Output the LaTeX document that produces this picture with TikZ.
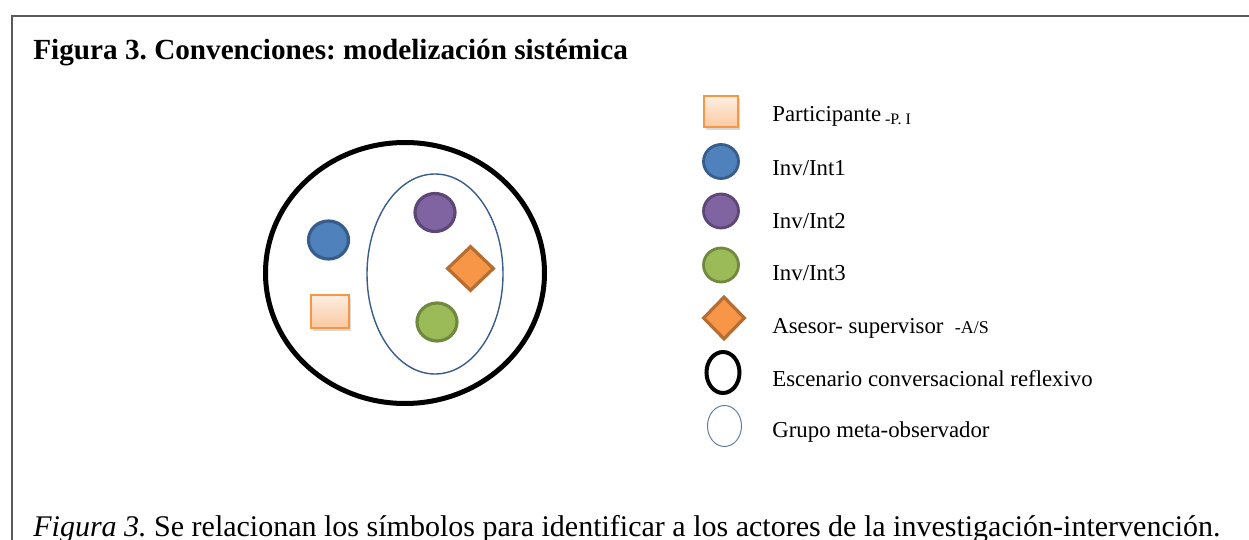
\documentclass[tikz,border=0pt]{standalone}
\usepackage{fontspec}
\setmainfont{Liberation Serif}
\usetikzlibrary{shapes.geometric,shadows}
\frenchspacing
\definecolor{framegray}{HTML}{5A5A5A}
\definecolor{invblue}{HTML}{4F81BD}
\definecolor{invblued}{HTML}{385D8A}
\definecolor{invpurple}{HTML}{8064A2}
\definecolor{invpurpled}{HTML}{5C4776}
\definecolor{invgreen}{HTML}{9BBB59}
\definecolor{invgreend}{HTML}{71893F}
\definecolor{asorange}{HTML}{F79646}
\definecolor{asoranged}{HTML}{B66D31}
\definecolor{peachtop}{HTML}{FDEEE2}
\definecolor{peachbot}{HTML}{FBC9A0}
\def\titlefont{\fontsize{14.6}{17}\selectfont\bfseries}
\def\legendfont{\fontsize{11.4}{13}\selectfont}
\def\tagfont{\fontsize{8}{9}\selectfont}
\def\captionfont{\fontsize{15}{17}\selectfont}
\tikzset{
	actor/.style={ellipse,inner sep=0pt,line width=1.6pt,minimum width=20pt,minimum height=19pt},
	inv1/.style={actor,draw=invblued,fill=invblue},
	inv2/.style={actor,draw=invpurpled,fill=invpurple},
	inv3/.style={actor,draw=invgreend,fill=invgreen},
	asesor/.style={diamond,inner sep=0pt,line width=1.6pt,draw=asoranged,fill=asorange,minimum width=23.5pt,minimum height=22.5pt},
	participante/.style={rectangle,inner sep=0pt,line width=1pt,draw=asorange,top color=peachtop,bottom color=peachbot,
		drop shadow={opacity=.3,shadow xshift=1pt,shadow yshift=-1.5pt},minimum width=19pt,minimum height=16.5pt},
	escenario/.style={ellipse,inner sep=0pt,draw=black,line width=2.5pt},
	metagrupo/.style={ellipse,inner sep=0pt,draw=invblued,line width=.7pt},
	leyenda/.style={anchor=base west,inner sep=0pt,font=\legendfont},
}

\begin{document}
\begin{tikzpicture}[x=.5pt,y=-.5pt]
	\useasboundingbox (0,0) rectangle (1249,540);
	\draw[line width=1pt,color=framegray] (1249,16) -- (12,16) -- (12,540);
	\node[anchor=base west,inner sep=0pt,font=\titlefont] (titulo) at (33,60) {Figura 3. Convenciones: modelización sistémica};
	% escenario
	\node[escenario,minimum width=139.5pt,minimum height=130.5pt] (esc) at (405,273) {};
	\node[metagrupo,minimum width=68pt,minimum height=100pt] (meta) at (435,274) {};
	\node[inv1] (i1) at (328.5,240) {};
	\node[inv2] (i2) at (435,212.5) {};
	\node[asesor] (as) at (470.5,268.5) {};
	\node[inv3] (i3) at (437,322) {};
	\node[participante] (pi) at (330,311) {};
	% leyenda
	\node[participante,minimum width=17pt,minimum height=15.5pt] (lpi) at (721,112) {};
	\node[inv1,minimum width=17.5pt,minimum height=17pt,line width=1.4pt] (li1) at (721,161.5) {};
	\node[inv2,minimum width=17.5pt,minimum height=17pt,line width=1.4pt] (li2) at (721,211) {};
	\node[inv3,minimum width=17.5pt,minimum height=17pt,line width=1.4pt] (li3) at (721,265) {};
	\node[asesor,minimum width=21pt,minimum height=21.5pt] (las) at (724,318) {};
	\node[escenario,minimum width=16.5pt,minimum height=20.5pt,line width=2pt] (lesc) at (723,372.5) {};
	\node[metagrupo,minimum width=17pt,minimum height=20.5pt,line width=.5pt,draw=invblued!80] (lmeta) at (724.5,426) {};
	\node[leyenda] (tpi) at (772,122) {Participante\,{\tagfont\raisebox{-1.5pt}{-P. I}}};
	\node[leyenda] (ti1) at (772,176) {Inv/Int1};
	\node[leyenda] (ti2) at (772,228) {Inv/Int2};
	\node[leyenda] (ti3) at (772,280) {Inv/Int3};
	\node[leyenda] (tas) at (772,333) {Asesor- supervisor\ \ {\fontsize{9}{10}\selectfont -A/S}};
	\node[leyenda] (tesc) at (772,386) {Escenario conversacional reflexivo};
	\node[leyenda] (tmeta) at (772,437) {Grupo meta-observador};
	\node[anchor=base west,inner sep=0pt,font=\captionfont] (nota) at (33,536) {\textit{Figura 3.} Se relacionan los símbolos para identificar a los actores de la investigación-intervención.};
\end{tikzpicture}
\end{document}
